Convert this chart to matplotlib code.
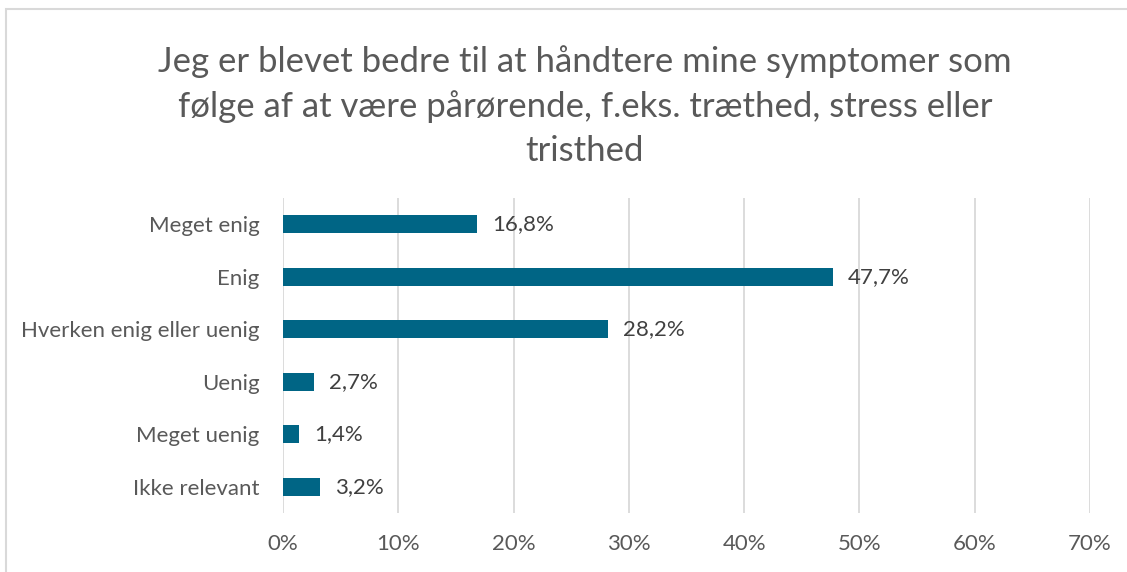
import matplotlib.pyplot as plt
from matplotlib.patches import Rectangle

# data
categories = ["Meget enig", "Enig", "Hverken enig eller uenig", "Uenig", "Meget uenig", "Ikke relevant"]
values = [16.8, 47.7, 28.2, 2.7, 1.4, 3.2]
xticks = [0, 10, 20, 30, 40, 50, 60, 70]
title = "Jeg er blevet bedre til at håndtere mine symptomer som\nfølge af at være pårørende, f.eks. træthed, stress eller\ntristhed"

plt.rcParams['font.family'] = ['Lato', 'DejaVu Sans']
grey = '#595959'
bar_col = '#006585'

fig = plt.figure(figsize=(11.27, 5.72), dpi=100)
W, H = 1127, 572

# chart frame (only top and left edges are visible in the picture)
fig.patches.append(Rectangle((6 / W, -0.1), 1.2, 1 - 9 / H + 0.1, transform=fig.transFigure,
                             fill=False, edgecolor='#d9d9d9', linewidth=1.5))

ax = fig.add_axes([283 / W, 1 - 513 / H, (1090 - 283) / W, (513 - 198) / H])
y = list(range(len(categories)))
ax.barh(y, values, height=0.35, color=bar_col, zorder=3)
for yi, v in zip(y, values):
    ax.annotate(("%.1f%%" % v).replace('.', ','), (v, yi), xytext=(11, 0), textcoords='offset points',
                va='center', ha='left', fontsize=16, color='#404040')

ax.set_ylim(len(categories) - 0.5, -0.5)
ax.set_xlim(0, 70)
ax.set_xticks(xticks)
ax.set_xticklabels(["%d%%" % t for t in xticks])
ax.set_yticks(y)
ax.set_yticklabels(categories)
ax.tick_params(axis='both', length=0, labelsize=16, colors=grey)
ax.tick_params(axis='x', pad=15)
ax.tick_params(axis='y', pad=17)
ax.grid(axis='x', color='#d9d9d9', linewidth=1.3, zorder=0)
for s in ax.spines.values():
    s.set_visible(False)

fig.text(585 / W, 1 - 106 / H, title, ha='center', va='center', fontsize=25, color=grey,
         linespacing=1.45)

fig.savefig('out.png', dpi=100, facecolor='white')
